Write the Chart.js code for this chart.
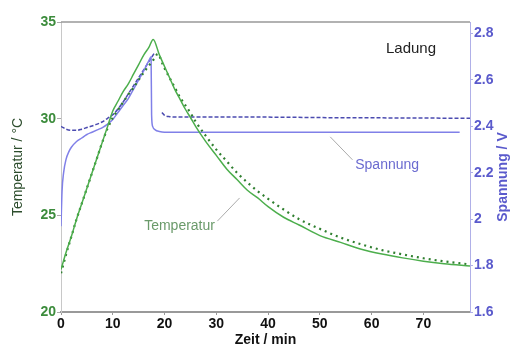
<!DOCTYPE html>
<html lang="de">
<head>
<meta charset="UTF-8">
<title>Ladung: Temperatur und Spannung</title>
<script src="https://cdn.jsdelivr.net/npm/chart.js"></script>
<style>
  body { margin: 0; background: #fff; }
  #chart { display: block; }
</style>
</head>
<body>
<canvas id="chart" width="512" height="350"></canvas>
<script>
// measured temperature (green solid)
const tMeasTemp = [0, 1, 2, 3, 4, 5, 6, 7, 8, 9, 10, 11, 12, 13, 14, 15, 16, 17, 17.8,
  19, 20, 21, 22, 23, 24, 25, 26, 28, 30, 32, 34, 36, 38, 40, 43, 46, 50, 54, 58, 62, 66, 70, 74, 79];
const measTemp = [22.2, 23.1, 23.9, 24.8, 25.6, 26.4, 27.2, 28.0, 28.8, 29.6, 30.4, 30.9, 31.4, 31.8, 32.3, 32.8, 33.3, 33.7, 34.1,
  33.3, 32.7, 32.1, 31.5, 31.0, 30.5, 30.06, 29.6, 28.8, 28.1, 27.4, 26.85, 26.3, 25.9, 25.45, 24.9, 24.5, 23.95, 23.6, 23.25, 23.0, 22.8, 22.63, 22.5, 22.38];

// simulated temperature (green dotted)
const tSimTemp = [0, 1, 2, 3, 4, 5, 6, 7, 8, 9, 10, 11, 12, 13, 14, 15, 16, 17, 18, 18.7,
  19.5, 20, 21, 22, 23, 24, 25, 26, 28, 30, 32, 34, 36, 38, 40, 43, 46, 50, 54, 58, 62, 66, 70, 74, 79];
const simTemp = [22.0, 23.0, 23.9, 24.8, 25.6, 26.4, 27.2, 28.0, 28.8, 29.5, 30.05, 30.45, 30.85, 31.25, 31.6, 32.0, 32.4, 32.75, 33.1, 33.35,
  32.9, 32.6, 32.1, 31.6, 31.1, 30.7, 30.3, 29.85, 29.1, 28.4, 27.8, 27.2, 26.7, 26.25, 25.85, 25.3, 24.8, 24.3, 23.85, 23.5, 23.2, 22.98, 22.78, 22.62, 22.46];

// measured voltage (blue solid)
const tMeasVolt = [0, 0.2, 0.5, 1, 1.5, 2, 3, 4, 5, 6, 7, 8, 9, 10, 11, 12, 13, 14, 15, 16, 17, 17.4,
  17.5, 17.7, 18.2, 19, 20, 25, 30, 40, 50, 60, 70, 77];
const measVolt = [1.97, 2.12, 2.2, 2.26, 2.29, 2.31, 2.335, 2.35, 2.365, 2.375, 2.385, 2.395, 2.41, 2.43, 2.46, 2.49, 2.52, 2.56, 2.6, 2.64, 2.685, 2.7,
  2.45, 2.4, 2.385, 2.378, 2.375, 2.375, 2.375, 2.375, 2.375, 2.375, 2.375, 2.375];

// simulated voltage (blue dashed), charge phase and rest phase
const tSimVoltCharge = [0, 1, 2, 3, 4, 5, 6, 7, 8, 9, 10, 11, 12, 13, 14, 15, 16, 17, 18];
const simVoltCharge = [2.4, 2.388, 2.383, 2.383, 2.388, 2.395, 2.402, 2.41, 2.42, 2.435, 2.45, 2.475, 2.505, 2.54, 2.575, 2.61, 2.645, 2.68, 2.715];
const tSimVoltRest = [19.5, 20, 21, 23, 26, 30, 40, 50, 60, 70, 79];
const simVoltRest = [2.46, 2.448, 2.442, 2.44, 2.44, 2.44, 2.44, 2.438, 2.437, 2.436, 2.435];

const tempTicks = [20, 25, 30, 35];
const voltTicks = [1.6, 1.8, 2.0, 2.2, 2.4, 2.6, 2.8];

const FONT = "'Liberation Sans', Arial, sans-serif";

function pts(xs, ys) {
  return xs.map((x, i) => ({ x: x, y: ys[i] }));
}

// annotation texts, placed in data units
const notes = [
  { text: 'Ladung', t: 67.6, axis: 'yT', v: 33.6, color: '#222', size: 15 },
  { text: 'Spannung', t: 63.0, axis: 'yV', v: 2.234, color: '#6b6bd0', size: 14 },
  { text: 'Temperatur', t: 22.9, axis: 'yT', v: 24.45, color: '#6a9a6a', size: 14 }
];
const leaders = [
  { axis: 'yV', t1: 52, v1: 2.355, t2: 56.3, v2: 2.256 },
  { axis: 'yT', t1: 30.2, v1: 24.7, t2: 34.5, v2: 25.9 }
];

const extras = {
  id: 'extras',
  afterDraw(chart) {
    const ctx = chart.ctx;
    const a = chart.chartArea;
    const x = chart.scales.x;
    ctx.save();
    // top frame line
    ctx.strokeStyle = '#999';
    ctx.lineWidth = 1.5;
    ctx.beginPath();
    ctx.moveTo(a.left, a.top);
    ctx.lineTo(a.right, a.top);
    ctx.stroke();

    // leader lines
    ctx.strokeStyle = '#aaa';
    ctx.lineWidth = 1;
    leaders.forEach(l => {
      const s = chart.scales[l.axis];
      ctx.beginPath();
      ctx.moveTo(x.getPixelForValue(l.t1), s.getPixelForValue(l.v1));
      ctx.lineTo(x.getPixelForValue(l.t2), s.getPixelForValue(l.v2));
      ctx.stroke();
    });

    // texts
    ctx.textAlign = 'center';
    ctx.textBaseline = 'middle';
    notes.forEach(n => {
      const s = chart.scales[n.axis];
      ctx.fillStyle = n.color;
      ctx.font = n.size + 'px ' + FONT;
      ctx.fillText(n.text, x.getPixelForValue(n.t), s.getPixelForValue(n.v));
    });

    // right axis title, reading bottom to top
    ctx.translate(503, (a.top + a.bottom) / 2 + 10);
    ctx.rotate(-Math.PI / 2);
    ctx.fillStyle = '#5a5acc';
    ctx.font = 'bold 14px ' + FONT;
    ctx.fillText('Spannung / V', 0, 0);
    ctx.restore();
  }
};

new Chart(document.getElementById('chart'), {
  type: 'line',
  data: {
    datasets: [
      {
        label: 'Temperatur gemessen',
        data: pts(tMeasTemp, measTemp),
        yAxisID: 'yT',
        borderColor: '#4cae4c',
        borderWidth: 1.5
      },
      {
        label: 'Temperatur simuliert',
        data: pts(tSimTemp, simTemp),
        yAxisID: 'yT',
        borderColor: '#2f7f2f',
        borderWidth: 2.2,
        borderDash: [2, 4]
      },
      {
        label: 'Spannung gemessen',
        data: pts(tMeasVolt, measVolt),
        yAxisID: 'yV',
        borderColor: '#8080e8',
        borderWidth: 1.5
      },
      {
        label: 'Spannung simuliert Ladung',
        data: pts(tSimVoltCharge, simVoltCharge),
        yAxisID: 'yV',
        borderColor: '#4b4bb0',
        borderWidth: 1.5,
        borderDash: [4, 2]
      },
      {
        label: 'Spannung simuliert Pause',
        data: pts(tSimVoltRest, simVoltRest),
        yAxisID: 'yV',
        borderColor: '#4b4bb0',
        borderWidth: 1.5,
        borderDash: [4, 2]
      }
    ]
  },
  options: {
    responsive: false,
    animation: false,
    devicePixelRatio: 1,
    layout: { padding: { top: 22, left: 0, right: 0, bottom: 0 } },
    elements: {
      point: { radius: 0 },
      line: { cubicInterpolationMode: 'monotone', fill: false }
    },
    plugins: {
      legend: { display: false },
      tooltip: { enabled: false }
    },
    scales: {
      x: {
        type: 'linear',
        min: 0,
        max: 79,
        afterFit(s) { s.height = 38; },
        ticks: {
          stepSize: 10,
          includeBounds: false,
          color: '#111',
          padding: 1,
          font: { family: FONT, size: 14, weight: 'bold' }
        },
        grid: { drawOnChartArea: false, tickLength: 3, color: '#999' },
        border: { color: '#999', width: 2 },
        title: {
          display: true,
          text: 'Zeit / min',
          color: '#111',
          padding: { top: 0, bottom: 1 },
          font: { family: FONT, size: 14, weight: 'bold' }
        }
      },
      yT: {
        position: 'left',
        min: 20,
        max: 35,
        afterFit(s) { s.width = 61; },
        afterBuildTicks(s) { s.ticks = tempTicks.map(v => ({ value: v })); },
        ticks: {
          color: '#3c8c3c',
          padding: 1,
          font: { family: FONT, size: 14, weight: 'bold' }
        },
        grid: { drawOnChartArea: false, tickLength: 4, color: '#aaa' },
        border: { color: '#c8c8c8', width: 1 },
        title: {
          display: true,
          text: 'Temperatur / °C',
          color: '#2d4d2d',
          padding: { top: 10, bottom: 0 },
          font: { family: FONT, size: 14 }
        }
      },
      yV: {
        position: 'right',
        min: 1.6,
        max: 2.85,
        afterFit(s) { s.width = 42; },
        afterBuildTicks(s) { s.ticks = voltTicks.map(v => ({ value: v })); },
        ticks: {
          color: '#5a5acc',
          padding: 1,
          font: { family: FONT, size: 14, weight: 'bold' },
          callback: v => String(Number(v.toFixed(1)))
        },
        grid: { drawOnChartArea: false, tickLength: 3, color: '#b0b0e8' },
        border: { color: '#b0b0e8', width: 1 }
      }
    }
  },
  plugins: [extras]
});
</script>
</body>
</html>
